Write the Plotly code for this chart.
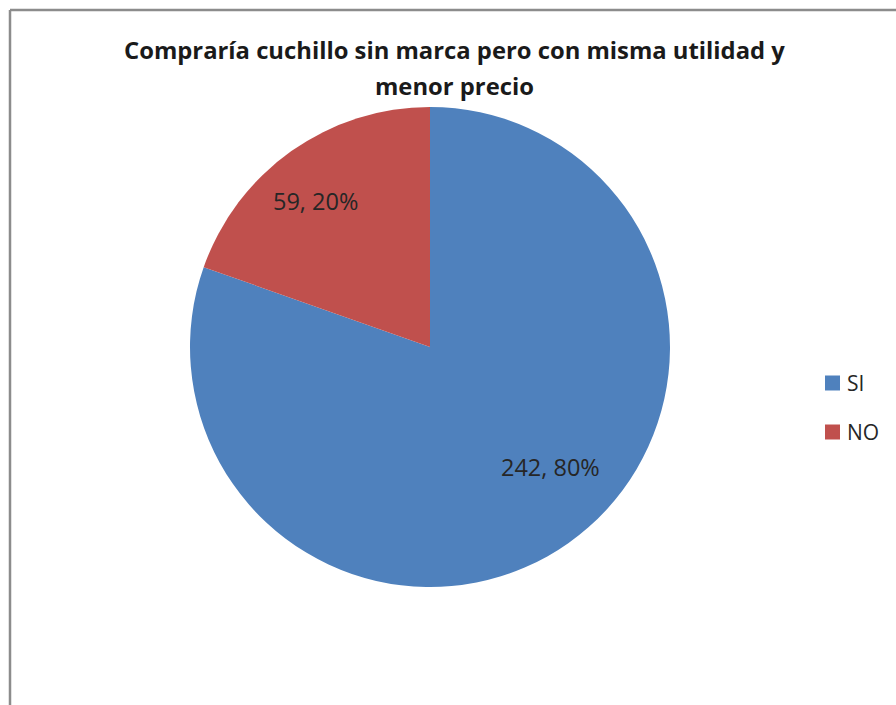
import plotly.graph_objects as go

# Survey answers
categories = ["SI", "NO"]
counts = [242, 59]
colors = ["#4F81BD", "#C0504D"]

W, H = 896, 705
cx, cy, r = 430, 347, 240  # pie centre and radius in pixels
FONT = "Open Sans, Noto Sans, sans-serif"
TEXT_COLOR = "#262626"

# Pixel centres of the data labels, in category order
label_pos = [(550, 467), (315, 201)]
# Legend layout (pixels)
legend_x, legend_y0, legend_dy, swatch = 825, 383, 49, 15


def px(x):
    return x / W


def py(y):
    return 1 - y / H


fig = go.Figure(
    go.Pie(
        labels=categories,
        values=counts,
        sort=False,
        direction="clockwise",
        rotation=0,
        marker=dict(colors=colors, line=dict(width=0)),
        textinfo="none",
        domain=dict(x=[px(cx - r), px(cx + r)], y=[py(cy + r), py(cy - r)]),
        hoverinfo="label+value+percent",
        showlegend=False,
    )
)

total = sum(counts)
annotations = []
shapes = []

# Chart-area border: only the left and top edges fall inside the frame
shapes.append(dict(type="line", xref="paper", yref="paper",
                   x0=px(10), x1=1, y0=py(10), y1=py(10),
                   line=dict(color="#8c8c8c", width=2.5)))
shapes.append(dict(type="line", xref="paper", yref="paper",
                   x0=px(10), x1=px(10), y0=0, y1=py(10),
                   line=dict(color="#8c8c8c", width=2.5)))

# Data labels: "value, percent"
for (lx, ly), v in zip(label_pos, counts):
    annotations.append(
        dict(
            x=px(lx), y=py(ly), xref="paper", yref="paper",
            text=f"{v}, {round(100 * v / total)}%",
            showarrow=False, xanchor="center", yanchor="middle",
            font=dict(family=FONT, size=23.5, color=TEXT_COLOR),
        )
    )

# Two-line bold title
title_lines = ["Compraría cuchillo sin marca pero con misma utilidad y", "menor precio"]
for line, ty in zip(title_lines, [50, 86]):
    annotations.append(
        dict(
            x=px(454), y=py(ty), xref="paper", yref="paper",
            text=f"<b>{line}</b>",
            showarrow=False, xanchor="center", yanchor="middle",
            font=dict(family=FONT, size=23.8, color="#1a1a1a"),
        )
    )

# Legend: coloured squares with category names
for i, (cat, col) in enumerate(zip(categories, colors)):
    yc = legend_y0 + i * legend_dy
    shapes.append(
        dict(
            type="rect", xref="paper", yref="paper",
            x0=px(legend_x), x1=px(legend_x + swatch),
            y0=py(yc + swatch / 2), y1=py(yc - swatch / 2),
            fillcolor=col, line=dict(width=0),
        )
    )
    annotations.append(
        dict(
            x=px(legend_x + swatch + 5), y=py(yc), xref="paper", yref="paper",
            text=cat, showarrow=False, xanchor="left", yanchor="middle",
            font=dict(family=FONT, size=21, color=TEXT_COLOR),
        )
    )

fig.update_layout(
    width=W,
    height=H,
    margin=dict(l=0, r=0, t=0, b=0),
    paper_bgcolor="white",
    plot_bgcolor="white",
    showlegend=False,
    annotations=annotations,
    shapes=shapes,
)

fig.write_html("out.html")
